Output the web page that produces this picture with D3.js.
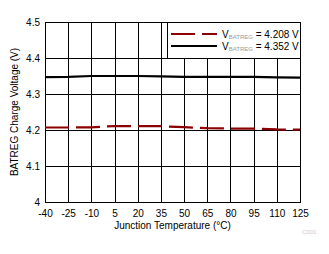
<!DOCTYPE html>
<html><head><meta charset="utf-8">
<script src="https://cdn.jsdelivr.net/npm/d3@7"></script>
<style>body{margin:0;background:#fff}svg{display:block}text{font-family:"Liberation Sans",Arial,sans-serif}</style>
</head><body>
<script>
const temps = [-40,-25,-10,5,20,35,50,65,80,95,110,125];
const v4208 = [4.207,4.207,4.2075,4.211,4.211,4.2105,4.208,4.205,4.204,4.204,4.2015,4.201];
const v4352 = [4.347,4.3475,4.350,4.350,4.350,4.349,4.3475,4.3475,4.3475,4.3475,4.346,4.3455];
const xTicks = [-40,-25,-10,5,20,35,50,65,80,95,110,125];
const yTicks = [4,4.1,4.2,4.3,4.4,4.5];
const seriesNames = ["4.208 V","4.352 V"];

const W=329,H=254, L=45,R=300,T=22,B=202;
const svg=d3.select("body").append("svg").attr("width",W).attr("height",H);
const x=d3.scaleLinear().domain([-40,125]).range([L,R]);
const y=d3.scaleLinear().domain([4,4.5]).range([B,T]);

// grid
svg.append("g").selectAll("line").data(xTicks).join("line")
  .attr("x1",d=>Math.round(x(d))+0.5).attr("x2",d=>Math.round(x(d))+0.5)
  .attr("y1",T).attr("y2",B).attr("stroke","#000").attr("stroke-width",1);
svg.append("g").selectAll("line").data(yTicks).join("line")
  .attr("y1",d=>Math.round(y(d))+0.5).attr("y2",d=>Math.round(y(d))+0.5)
  .attr("x1",L).attr("x2",R+1).attr("stroke","#000").attr("stroke-width",1);

// axes labels
const xa=svg.append("g").attr("transform",`translate(0,${B})`).call(d3.axisBottom(x).tickValues(xTicks).tickSize(0).tickPadding(8).tickFormat(d=>String(d)));
xa.select(".domain").remove();
xa.selectAll("text").attr("font-size",10).attr("fill","#000").attr("font-family","Liberation Sans, Arial, sans-serif");
const ya=svg.append("g").attr("transform",`translate(${L},0)`).call(d3.axisLeft(y).tickValues(yTicks).tickSize(0).tickPadding(5).tickFormat(d=>String(+d.toFixed(1))));
ya.select(".domain").remove();
ya.selectAll("text").attr("font-size",10).attr("fill","#000").attr("font-family","Liberation Sans, Arial, sans-serif");

svg.append("text").attr("x",(L+R)/2).attr("y",229).attr("text-anchor","middle").attr("font-size",10).text("Junction Temperature (°C)");
svg.append("text").attr("transform",`translate(18,${(T+B)/2}) rotate(-90)`).attr("text-anchor","middle").attr("font-size",10).text("BATREG Charge Voltage (V)");

// lines
const line=d3.line().x((d,i)=>x(temps[i])).y(d=>y(d));
svg.append("path").datum(v4208).attr("d",line).attr("fill","none").attr("stroke","#8b0000").attr("stroke-width",2.2).attr("stroke-dasharray","24,7");
svg.append("path").datum(v4352).attr("d",line).attr("fill","none").attr("stroke","#000").attr("stroke-width",2.2);

// legend
const lg=svg.append("g");
lg.append("rect").attr("x",167.5).attr("y",T+0.5).attr("width",R-167).attr("height",36).attr("fill","#fff").attr("stroke","#000");
const rows=[{c:"#8b0000",d:"24,7",n:seriesNames[0],y:34},{c:"#000",d:null,n:seriesNames[1],y:46}];
rows.forEach(r=>{
  lg.append("line").attr("x1",171).attr("x2",217).attr("y1",r.y).attr("y2",r.y).attr("stroke",r.c).attr("stroke-width",2.2).attr("stroke-dasharray",r.d);
  const t=lg.append("text").attr("x",222).attr("y",r.y+3.5).attr("font-size",10);
  t.append("tspan").text("V");
  t.append("tspan").attr("font-size",6).attr("fill","#999").attr("dy",1).text("BATREG");
  t.append("tspan").attr("dy",-1).text(" = "+r.n);
});
svg.append("text").attr("x",302).attr("y",234).attr("font-size",6).attr("fill","#ccc").text("C001");
</script>
</body></html>
